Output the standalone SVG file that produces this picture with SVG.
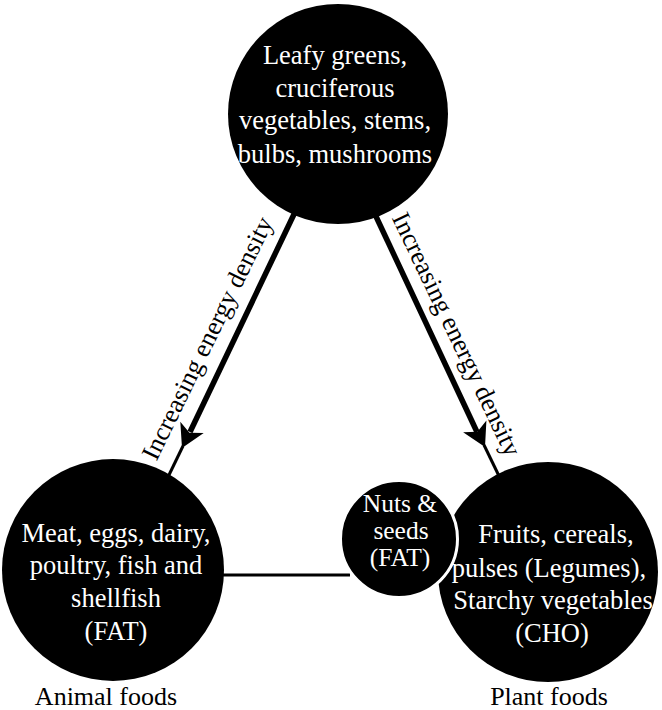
<svg xmlns="http://www.w3.org/2000/svg" width="662" height="710" viewBox="0 0 662 710">
<style>
.node{fill:#000}
.t{font-family:"Liberation Serif","Times New Roman",serif;font-size:26.5px;fill:#fff;text-anchor:middle}
.ts{font-family:"Liberation Serif","Times New Roman",serif;font-size:25.5px;fill:#fff;text-anchor:middle}
.lbl{font-family:"Liberation Serif","Times New Roman",serif;font-size:26px;fill:#000;text-anchor:middle}
.thick{stroke:#000;stroke-width:5.5;fill:none}
.thin{stroke:#000;stroke-width:3;fill:none}
</style>
<defs>
<path id="ah" d="M0,0 L-23,-13 L-17,0 L-23,13 Z" fill="#000"/>
</defs>
<rect width="662" height="710" fill="#fff"/>
<g id="connectors">
<line class="thick" x1="296" y1="210" x2="190" y2="432"/>
<line class="thin" x1="183" y1="446" x2="168" y2="477"/>
<use href="#ah" transform="translate(182,448) rotate(115.8)"/>
<line class="thick" x1="373" y1="210" x2="477" y2="432"/>
<line class="thin" x1="484" y1="445" x2="499" y2="476"/>
<use href="#ah" transform="translate(485,447) rotate(63.6)"/>
<line class="thin" x1="215" y1="575" x2="350" y2="575"/>
<text class="lbl" transform="translate(215,342) rotate(-64)">Increasing energy density</text>
<text class="lbl" transform="translate(449,338) rotate(64.5)">Increasing energy density</text>
</g>
<g id="node-top">
<circle class="node" cx="338" cy="114" r="110"/>
<text class="t" x="335" y="64">Leafy greens,</text>
<text class="t" x="335" y="97">cruciferous</text>
<text class="t" x="335" y="129">vegetables, stems,</text>
<text class="t" x="335" y="163">bulbs, mushrooms</text>
</g>
<g id="node-animal">
<circle class="node" cx="113" cy="570" r="111"/>
<text class="t" x="116" y="542">Meat, eggs, dairy,</text>
<text class="t" x="116" y="574">poultry, fish and</text>
<text class="t" x="116" y="607">shellfish</text>
<text class="t" x="116" y="640">(FAT)</text>
<text class="lbl" x="106" y="705">Animal foods</text>
</g>
<g id="node-plant">
<circle class="node" cx="548" cy="572" r="110"/>
<text class="t" x="556" y="543">Fruits, cereals,</text>
<text class="t" x="549" y="577">pulses (Legumes),</text>
<text class="t" x="553" y="609">Starchy vegetables</text>
<text class="t" x="552" y="642">(CHO)</text>
<text class="lbl" x="549" y="705">Plant foods</text>
</g>
<g id="node-nuts">
<circle cx="399" cy="539" r="58.5" fill="#000" stroke="#fff" stroke-width="3"/>
<text class="ts" x="400" y="512">Nuts &amp;</text>
<text class="ts" x="401" y="539">seeds</text>
<text class="ts" x="400" y="566">(FAT)</text>
</g>
</svg>
